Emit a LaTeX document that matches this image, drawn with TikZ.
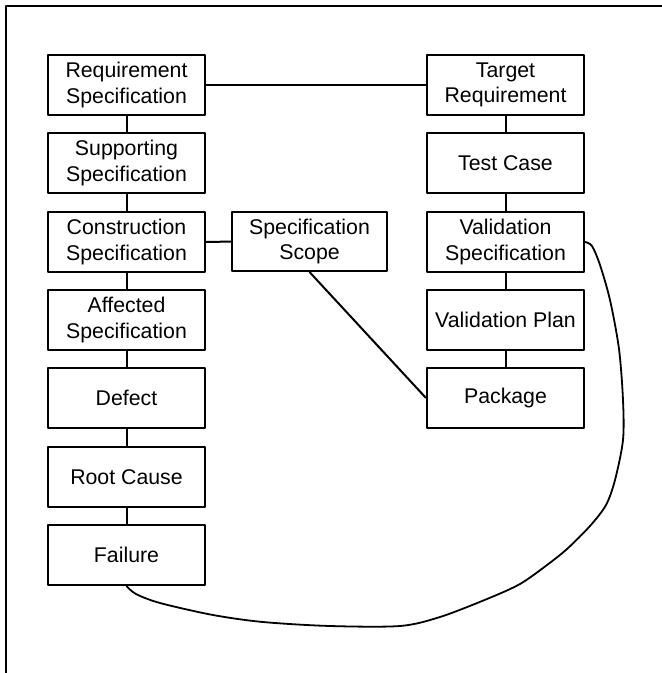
\documentclass[tikz,border=0pt]{standalone}
\usepackage{fontspec}
\setmainfont{Liberation Sans}
\begin{document}
\begin{tikzpicture}[x=1pt,y=-1pt,
  box/.style={draw, line width=2pt, minimum width=157pt, minimum height=60pt,
    inner sep=0pt, align=center, font=\fontsize{21.3}{25.6}\selectfont},
  link/.style={line width=2pt},
  every path/.style={line join=round}]
\useasboundingbox (0,0) rectangle (662,673);
% open frame: left and top edges only
\draw[line width=2.2pt] (6,673) -- (6,6) -- (662,6);

% left column
\node[box] (req)  at (126.5,85)  {Requirement\\Specification};
\node[box] (sup)  at (126.5,163) {Supporting\\Specification};
\node[box] (con)  at (126.5,242) {Construction\\Specification};
\node[box] (aff)  at (126.5,320) {Affected\\Specification};
\node[box] (def)  at (126.5,398) {Defect};
\node[box] (root) at (126.5,477) {Root Cause};
\node[box] (fail) at (126.5,555) {Failure};

% middle
\node[box, minimum width=155pt, minimum height=59pt] (scope) at (309.5,241.5) {Specification\\Scope};

% right column
\node[box] (tgt)  at (505.5,85)  {Target\\Requirement};
\node[box] (tc)   at (505.5,163) {Test Case};
\node[box] (vs)   at (505.5,242) {Validation\\Specification};
\node[box] (vp)   at (505.5,320) {Validation Plan};
\node[box] (pkg)  at (505.5,398) {Package};

% connectors
\draw[link] (req) -- (sup);
\draw[link] (sup) -- (con);
\draw[link] (con) -- (aff);
\draw[link] (aff) -- (def);
\draw[link] (def) -- (root);
\draw[link] (root) -- (fail);
\draw[link] (tgt) -- (tc);
\draw[link] (tc) -- (vs);
\draw[link] (vs) -- (vp);
\draw[link] (vp) -- (pkg);
\draw[link] (req) -- (tgt);
\draw[link] (con) -- (scope);
\draw[link] (scope.south) -- (pkg.west);

% freehand loop from Validation Specification round to Failure
\draw[link, line width=1.8pt] plot[smooth, tension=0.5] coordinates {
  (vs.east) (592,246) (600,265) (610,300) (619,349) (623,400) (623,440)
  (615,480) (606,505) (590,526) (567,549) (547,565) (520,584) (487,599)
  (440,617) (400,626) (330,626) (263,622) (213,615) (160,603) (136,594)
  (fail.south)};
\end{tikzpicture}
\end{document}
